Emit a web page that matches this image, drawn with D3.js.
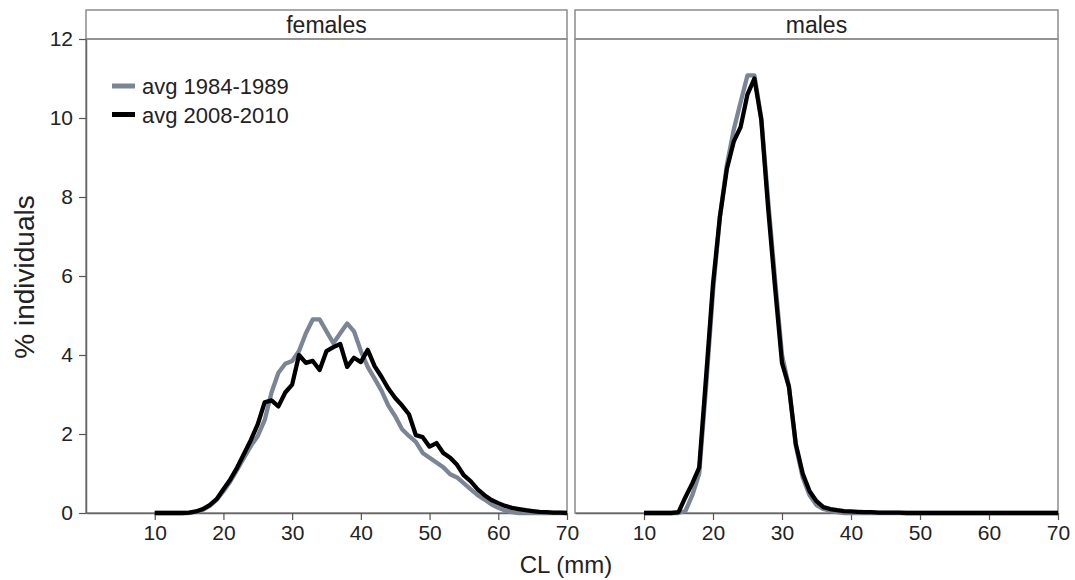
<!DOCTYPE html>
<html>
<head>
<meta charset="utf-8">
<script src="https://cdn.jsdelivr.net/npm/d3@7"></script>
<style>
  body { margin: 0; background: #fff; }
  svg text { font-family: "Liberation Sans", Arial, sans-serif; fill: #222; }
</style>
</head>
<body>
<script>
// carapace length classes (mm), one per point
var cl = d3.range(10, 71);

var femalesOld = [0,0,0,0,0,0,0.03,0.08,0.18,0.33,0.55,0.8,1.1,1.4,1.7,1.95,2.35,3.05,3.55,3.78,3.85,4.1,4.55,4.9,4.9,4.6,4.3,4.55,4.8,4.6,4.1,3.7,3.4,3.1,2.72,2.45,2.12,1.95,1.8,1.52,1.4,1.28,1.16,0.98,0.9,0.75,0.6,0.45,0.34,0.22,0.13,0.06,0.02,0,0,0,0,0,0,0,0];
var femalesNew = [0,0,0,0,0,0.01,0.04,0.1,0.2,0.35,0.6,0.85,1.15,1.5,1.85,2.25,2.8,2.85,2.7,3.05,3.25,4.0,3.8,3.85,3.62,4.1,4.2,4.28,3.7,3.93,3.82,4.13,3.72,3.45,3.15,2.91,2.72,2.5,1.97,1.92,1.68,1.77,1.52,1.4,1.22,0.95,0.8,0.6,0.45,0.33,0.25,0.18,0.13,0.1,0.07,0.05,0.03,0.02,0.01,0.01,0];
var malesOld = [0,0,0,0,0,0,0.05,0.45,1.0,3.2,5.6,7.5,8.8,9.7,10.4,11.08,11.08,10.0,7.9,5.9,4.0,3.2,1.7,0.9,0.45,0.2,0.1,0.05,0.02,0,0,0,0,0,0,0,0,0,0,0,0,0,0,0,0,0,0,0,0,0,0,0,0,0,0,0,0,0,0,0,0];
var malesNew = [0,0,0,0,0,0.02,0.4,0.75,1.15,3.45,5.8,7.5,8.7,9.4,9.77,10.6,11.0,9.95,7.7,5.7,3.8,3.2,1.75,1.0,0.55,0.3,0.15,0.1,0.07,0.05,0.04,0.03,0.02,0.02,0.01,0.01,0.01,0.01,0,0,0,0,0,0,0,0,0,0,0,0,0,0,0,0,0,0,0,0,0,0,0];

var panelNames = ["females", "males"];
var seriesNames = ["avg 1984-1989", "avg 2008-2010"];
var seriesColors = ["#7b8595", "#000000"];
var xTicks = [10, 20, 30, 40, 50, 60, 70];
var yTicks = [0, 2, 4, 6, 8, 10, 12];

var panels = [
  { name: panelNames[0], left: 86, right: 567, series: [femalesOld, femalesNew] },
  { name: panelNames[1], left: 575, right: 1058, series: [malesOld, malesNew] }
];

var stripTop = 10, plotTop = 39, plotBottom = 513;

var svg = d3.select("body").append("svg")
    .attr("width", 1075)
    .attr("height", 580);

var y = d3.scaleLinear().domain([0, 12]).range([plotBottom, plotTop]);

panels.forEach(function (p, pi) {
    var x = d3.scaleLinear().domain([0, 70]).range([p.left, p.right]);
    var g = svg.append("g");

    // strip
    g.append("rect")
        .attr("x", p.left).attr("y", stripTop)
        .attr("width", p.right - p.left).attr("height", plotTop - stripTop)
        .attr("fill", "#fff").attr("stroke", "#8c8c8c").attr("stroke-width", 1.5);
    g.append("text")
        .attr("x", (p.left + p.right) / 2).attr("y", 33)
        .attr("text-anchor", "middle")
        .style("font-size", "23px")
        .text(p.name);

    // frame
    g.append("rect")
        .attr("x", p.left).attr("y", plotTop)
        .attr("width", p.right - p.left).attr("height", plotBottom - plotTop)
        .attr("fill", "none").attr("stroke", "#8c8c8c").attr("stroke-width", 1.5);

    // x axis
    var xa = g.append("g")
        .attr("transform", "translate(0," + plotBottom + ")")
        .call(d3.axisBottom(x).tickValues(xTicks).tickSize(7).tickPadding(5).tickSizeOuter(0));
    xa.select(".domain").attr("stroke", "#666").attr("stroke-width", 1.5);
    xa.selectAll(".tick line").attr("stroke", "#555").attr("stroke-width", 1.2);
    xa.selectAll(".tick text").style("font-size", "21px").attr("fill", "#222");

    if (pi === 0) {
        var ya = g.append("g")
            .attr("transform", "translate(" + p.left + ",0)")
            .call(d3.axisLeft(y).tickValues(yTicks).tickSize(7).tickPadding(6).tickSizeOuter(0));
        ya.select(".domain").attr("stroke", "#666").attr("stroke-width", 1.5);
        ya.selectAll(".tick line").attr("stroke", "#555").attr("stroke-width", 1.2);
        ya.selectAll(".tick text").style("font-size", "21px").attr("fill", "#222");
    }

    var line = d3.line()
        .x(function (d, i) { return x(cl[i]); })
        .y(function (d) { return y(d); });

    p.series.forEach(function (s, si) {
        g.append("path")
            .datum(s)
            .attr("d", line)
            .attr("fill", "none")
            .attr("stroke", seriesColors[si])
            .attr("stroke-width", 4.3)
            .attr("stroke-linejoin", "round");
    });
});

// legend
seriesNames.forEach(function (name, i) {
    var ly = 86 + i * 28.5;
    svg.append("line")
        .attr("x1", 112).attr("x2", 135)
        .attr("y1", ly).attr("y2", ly)
        .attr("stroke", seriesColors[i]).attr("stroke-width", 5);
    svg.append("text")
        .attr("x", 142).attr("y", ly + 8)
        .style("font-size", "22px")
        .text(name);
});

// axis titles
svg.append("text")
    .attr("x", 566).attr("y", 573)
    .attr("text-anchor", "middle")
    .style("font-size", "24px")
    .text("CL (mm)");

svg.append("text")
    .attr("transform", "translate(34,277) rotate(-90)")
    .attr("text-anchor", "middle")
    .style("font-size", "28px")
    .text("% individuals");
</script>
</body>
</html>
